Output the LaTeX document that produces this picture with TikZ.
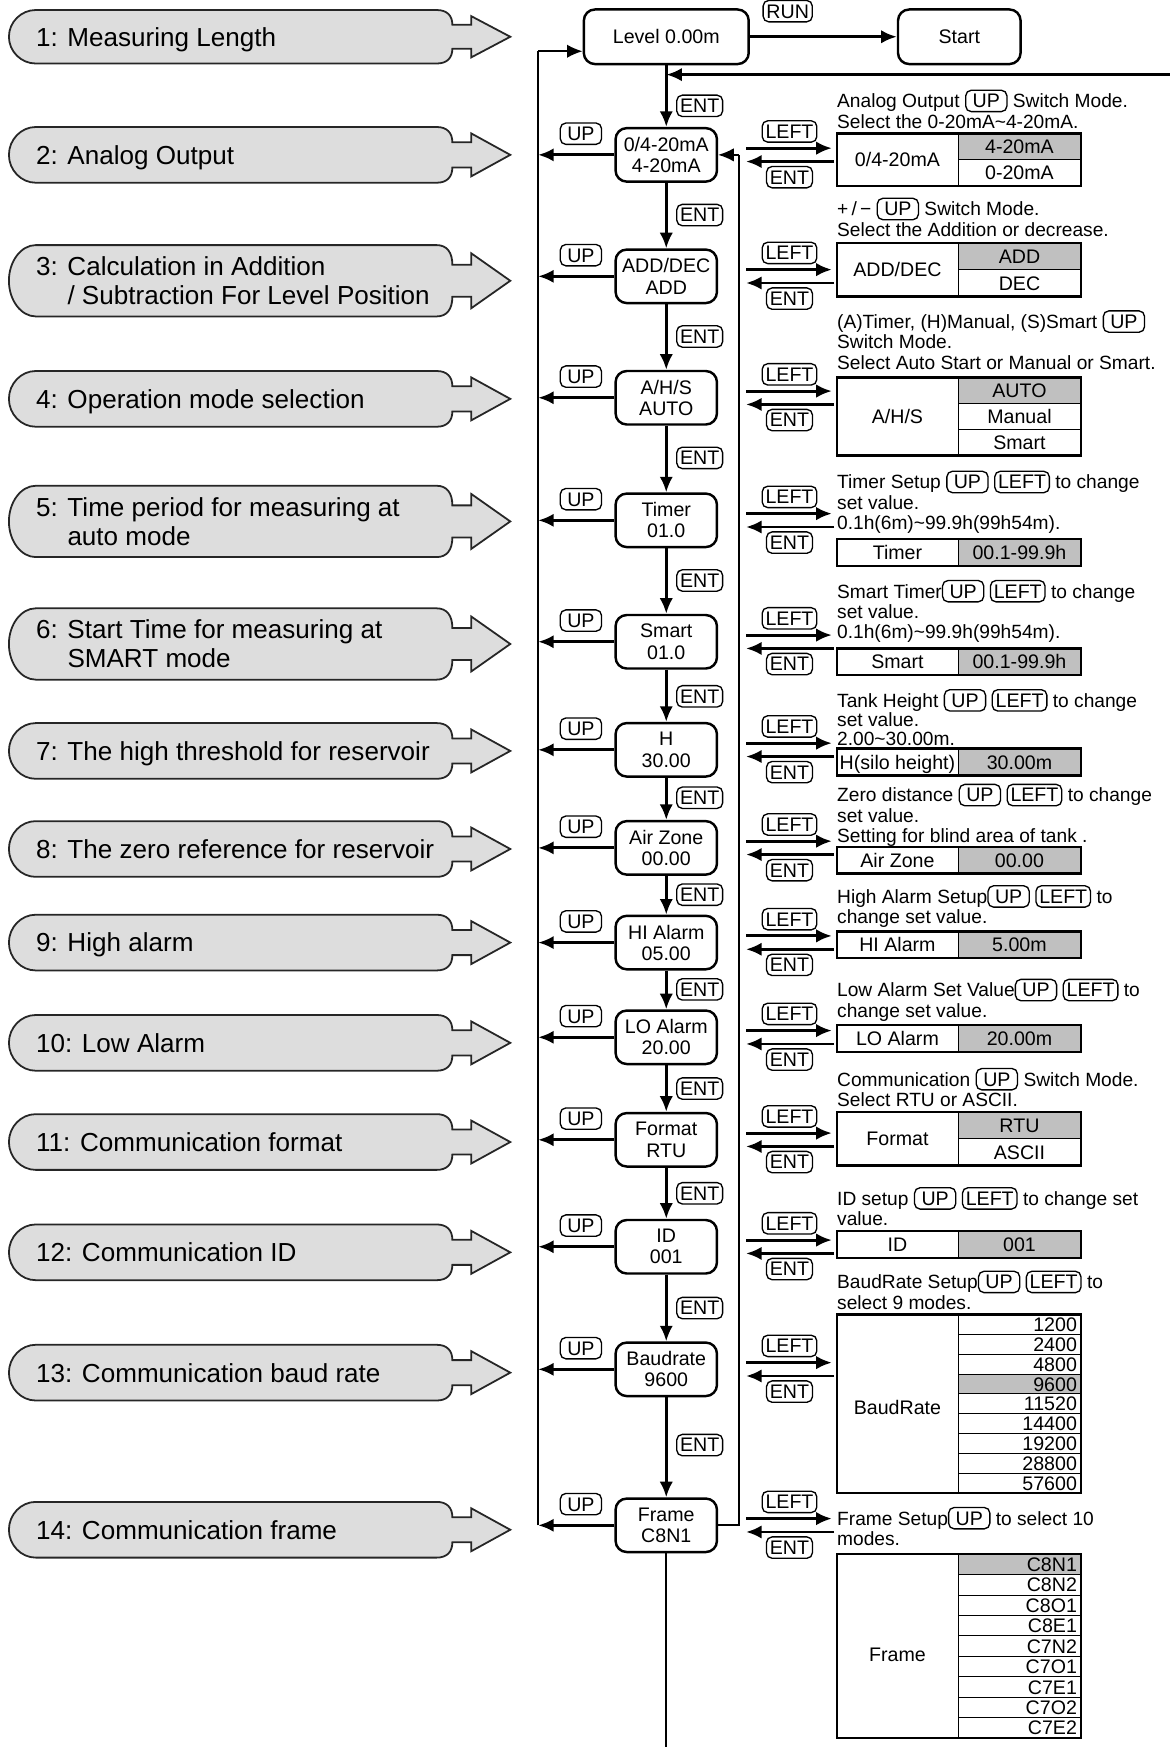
\documentclass[tikz,border=0pt]{standalone}
\usepackage{fontspec}
\setmainfont{Liberation Sans}
\usetikzlibrary{arrows.meta,calc}
\definecolor{bangray}{RGB}{221,221,221}
\definecolor{selgray}{RGB}{192,192,192}
\lineskiplimit=-5pt
\tikzset{%
    banner/.style={draw=black!85,fill=bangray,line width=0.8pt},
    bantext/.style={anchor=west,align=left,inner sep=0pt,font=\fontsize{11.7}{13}\selectfont},
    setbox/.style={shape=rectangle,draw,line width=1.1pt,rounded corners=5pt,minimum width=45.5pt,minimum height=24pt,inner sep=0pt,align=center,font=\fontsize{8.8}{9.5}\selectfont},
    keylab/.style={shape=rectangle,draw,line width=0.6pt,rounded corners=2.5pt,inner xsep=1.5pt,inner ysep=1.5pt,minimum width=18.5pt,text height=6.4pt,text depth=0.2pt,font=\fontsize{8.8}{9}\selectfont},
    flow/.style={line width=1.3pt,-{Latex[length=7pt,width=6pt]}},
    bus/.style={line width=0.75pt},
    busarrow/.style={line width=0.75pt,-{Latex[length=7pt,width=6pt]}},
    desc/.style={anchor=north west,align=left,inner sep=0pt,font=\fontsize{8.6}{9.1}\selectfont},
    tabout/.style={draw,line width=1.1pt},
    tabthin/.style={draw,line width=0.5pt},
    tabtxt/.style={inner sep=0pt,text height=6.3pt,text depth=0pt,font=\fontsize{8.8}{9}\selectfont},
}
% key drawn inside a line of text
\newcommand{\kb}[1]{\tikz[baseline=(kb.base)]\node[keylab](kb){#1};}
% grey banner with arrow, #1 centre y, #2 half height
\newcommand{\bannerat}[2]{%
  \draw[banner] (406,#1-0.45*#2) -- (423,#1-0.45*#2) -- (423,#1-0.77*#2) -- (458,#1)
    -- (423,#1+0.77*#2) -- (423,#1+0.45*#2) -- (406,#1+0.45*#2)
    .. controls (406,#1+0.8*#2) and (401,#1+#2) .. (392,#1+#2) -- (32,#1+#2)
    .. controls (19,#1+#2) and (8,#1+0.55*#2) .. (8,#1)
    .. controls (8,#1-0.55*#2) and (19,#1-#2) .. (32,#1-#2) -- (392,#1-#2)
    .. controls (401,#1-#2) and (406,#1-0.8*#2) .. (406,#1-0.45*#2) -- cycle;}
% UP exit of a setting box
\newcommand{\uplink}[2]{%
  \draw[flow] (#1.west) -- (#1.west -| lbtop);
  \node[keylab] (#2) at ($(#1.west)+(-30,-19)$) {UP};}
% LEFT / ENT pair to the side table
\newcommand{\sidelink}[3]{%
  \draw[flow] ([yshift=3pt]#1.east) ++(25,0) -- ++(77,0);
  \draw[flow] ([yshift=-3pt]#1.east) ++(104,0) -- ++(-79,0);
  \node[keylab] (#2) at ($(#1.east)+(64,-21)$) {LEFT};
  \node[keylab] (#3) at ($(#1.east)+(64,20)$) {ENT};}
% one-row table, value cell grey
\newcommand{\pairtable}[4]{%
  \fill[selgray] (860,#2) rectangle (970,#2+24);
  \draw[tabthin] (860,#2) -- (860,#2+24);
  \draw[tabout] (751,#2) rectangle (970,#2+24);
  \node[tabtxt] (#1) at (805.5,#2+12) {#3};
  \node[tabtxt] (#1v) at (915,#2+12) {#4};}
% one cell of a long list, #1 fill, #2 name, #3 top, #4 height, #5 text
\newcommand{\listrow}[5][white]{%
  \path[tabthin,fill=#1] (860,#3) rectangle (970,#3+#4);
  \node[tabtxt,anchor=east] (#2) at (967,#3+#4/2) {#5};}

\begin{document}
\begin{tikzpicture}[x=0.5pt,y=-0.5pt]
\useasboundingbox (0,0) rectangle (1050,1568);

% banners
\bannerat{33}{24}
\node[bantext,text height=8.4pt,text depth=0pt] (b1) at (32,33) {1: Measuring Length};
\bannerat{139}{25}
\node[bantext,text height=8.4pt,text depth=0pt] (b2) at (32,139) {2: Analog Output};
\bannerat{252}{32}
\node[bantext] (b3) at (32,252) {3: Calculation in Addition\\\phantom{3: }/ Subtraction For Level Position};
\bannerat{358}{25}
\node[bantext,text height=8.4pt,text depth=0pt] (b4) at (32,358) {4: Operation mode selection};
\bannerat{468}{32}
\node[bantext] (b5) at (32,468) {5: Time period for measuring at\\\phantom{5: }auto mode};
\bannerat{578}{32}
\node[bantext] (b6) at (32,578) {6: Start Time for measuring at\\\phantom{6: }SMART mode};
\bannerat{674}{25}
\node[bantext,text height=8.4pt,text depth=0pt] (b7) at (32,674) {7: The high threshold for reservoir};
\bannerat{762}{25}
\node[bantext,text height=8.4pt,text depth=0pt] (b8) at (32,762) {8: The zero reference for reservoir};
\bannerat{846}{25}
\node[bantext,text height=8.4pt,text depth=0pt] (b9) at (32,846) {9: High alarm};
\bannerat{936}{25}
\node[bantext,text height=8.4pt,text depth=0pt] (b10) at (32,936) {10: Low Alarm};
\bannerat{1025}{25}
\node[bantext,text height=8.4pt,text depth=0pt] (b11) at (32,1025) {11: Communication format};
\bannerat{1124}{25}
\node[bantext,text height=8.4pt,text depth=0pt] (b12) at (32,1124) {12: Communication ID};
\bannerat{1232}{25}
\node[bantext,text height=8.4pt,text depth=0pt] (b13) at (32,1232) {13: Communication baud rate};
\bannerat{1373}{25}
\node[bantext,text height=8.4pt,text depth=0pt] (b14) at (32,1373) {14: Communication frame};

% run / start
\node[setbox,minimum width=74pt,minimum height=24.5pt] (lvl) at (598,33) {Level 0.00m};
\node[setbox,minimum width=55pt,minimum height=24.5pt] (start) at (861,33) {Start};
\node[keylab] (run) at (707,10) {RUN};
\draw[flow] (lvl) -- (start);

% setting boxes
\node[setbox] (s1) at (598,139) {0/4-20mA\\4-20mA};
\node[setbox] (s2) at (598,248) {ADD/DEC\\ADD};
\node[setbox] (s3) at (598,357) {A/H/S\\AUTO};
\node[setbox] (s4) at (598,467) {Timer\\01.0};
\node[setbox] (s5) at (598,576) {Smart\\01.0};
\node[setbox] (s6) at (598,673) {H\\30.00};
\node[setbox] (s7) at (598,761) {Air Zone\\00.00};
\node[setbox] (s8) at (598,846) {HI Alarm\\05.00};
\node[setbox] (s9) at (598,931) {LO Alarm\\20.00};
\node[setbox] (s10) at (598,1023) {Format\\RTU};
\node[setbox] (s11) at (598,1119) {ID\\001};
\node[setbox] (s12) at (598,1229) {Baudrate\\9600};
\node[setbox] (s13) at (598,1369) {Frame\\C8N1};

% ENT trunk
\coordinate (back) at (1050,67);
\draw[flow] (back) -- (back -| lvl);
\draw[flow] (lvl) -- (s1);
\draw[flow] (s1) -- (s2);
\draw[flow] (s2) -- (s3);
\draw[flow] (s3) -- (s4);
\draw[flow] (s4) -- (s5);
\draw[flow] (s5) -- (s6);
\draw[flow] (s6) -- (s7);
\draw[flow] (s7) -- (s8);
\draw[flow] (s8) -- (s9);
\draw[flow] (s9) -- (s10);
\draw[flow] (s10) -- (s11);
\draw[flow] (s11) -- (s12);
\draw[flow] (s12) -- (s13);
\coordinate (bot) at (598,1568);
\draw[bus] (s13) -- (bot);
\node[keylab] (e1) at (628,95) {ENT};
\node[keylab] (e2) at (628,193) {ENT};
\node[keylab] (e3) at (628,302) {ENT};
\node[keylab] (e4) at (628,411) {ENT};
\node[keylab] (e5) at (628,521) {ENT};
\node[keylab] (e6) at (628,625) {ENT};
\node[keylab] (e7) at (628,716) {ENT};
\node[keylab] (e8) at (628,803) {ENT};
\node[keylab] (e9) at (628,888) {ENT};
\node[keylab] (e10) at (628,977) {ENT};
\node[keylab] (e11) at (628,1071) {ENT};
\node[keylab] (e12) at (628,1174) {ENT};
\node[keylab] (e13) at (628,1297) {ENT};

% UP bus on the left
\coordinate (lbtop) at (483,46);
\draw[bus] (s13.west -| lbtop) -- (lbtop);
\draw[busarrow] (lbtop) -- (lbtop -| lvl.west);
\uplink{s1}{u1}
\uplink{s2}{u2}
\uplink{s3}{u3}
\uplink{s4}{u4}
\uplink{s5}{u5}
\uplink{s6}{u6}
\uplink{s7}{u7}
\uplink{s8}{u8}
\uplink{s9}{u9}
\uplink{s10}{u10}
\uplink{s11}{u11}
\uplink{s12}{u12}
\uplink{s13}{u13}

% loop back on the right
\coordinate (rbus) at (663,0);
\draw[bus] (s13.east) -- (s13.east -| rbus) -- (s1.east -| rbus);
\draw[busarrow] (s1.east -| rbus) -- (s1.east);

% LEFT / ENT to the tables
\sidelink{s1}{l1}{n1}
\sidelink{s2}{l2}{n2}
\sidelink{s3}{l3}{n3}
\sidelink{s4}{l4}{n4}
\sidelink{s5}{l5}{n5}
\sidelink{s6}{l6}{n6}
\sidelink{s7}{l7}{n7}
\sidelink{s8}{l8}{n8}
\sidelink{s9}{l9}{n9}
\sidelink{s10}{l10}{n10}
\sidelink{s11}{l11}{n11}
\sidelink{s12}{l12}{n12}
\sidelink{s13}{l13}{n13}

% notes
\node[desc] (d1) at (751,80) {Analog Output \kb{UP} Switch Mode.\\Select the 0-20mA\textasciitilde4-20mA.};
\node[desc] (d2) at (751,177) {+\,/\,−\ \kb{UP} Switch Mode.\\Select the Addition or decrease.};
\node[desc] (d3) at (751,278) {(A)Timer, (H)Manual, (S)Smart \kb{UP}\\Switch Mode.\\Select Auto Start or Manual or Smart.};
\node[desc] (d4) at (751,422) {Timer Setup \kb{UP} \kb{LEFT} to change\\set value.\\0.1h(6m)\textasciitilde99.9h(99h54m).};
\node[desc] (d5) at (751,520) {Smart Timer\kb{UP} \kb{LEFT} to change\\set value.\\0.1h(6m)\textasciitilde99.9h(99h54m).};
\node[desc,font=\fontsize{8.6}{8.5}\selectfont] (d6) at (751,618) {Tank Height \kb{UP} \kb{LEFT} to change\\set value.\\2.00\textasciitilde30.00m.};
\node[desc] (d7) at (751,703) {Zero distance \kb{UP} \kb{LEFT} to change\\set value.\\Setting for blind area of tank .};
\node[desc] (d8) at (751,794) {High Alarm Setup\kb{UP} \kb{LEFT} to\\change set value.};
\node[desc] (d9) at (751,878) {Low Alarm Set Value\kb{UP} \kb{LEFT} to\\change set value.};
\node[desc] (d10) at (751,958) {Communication \kb{UP} Switch Mode.\\Select RTU or ASCII.};
\node[desc] (d11) at (751,1065) {ID setup \kb{UP} \kb{LEFT} to change set\\value.};
\node[desc] (d12) at (751,1140) {BaudRate Setup\kb{UP} \kb{LEFT} to\\select 9 modes.};
\node[desc] (d13) at (751,1352) {Frame Setup\kb{UP} to select 10\\modes.};

% tables
\fill[selgray] (860,120) rectangle (970,143.5);
\draw[tabthin] (860,120) -- (860,167) (860,143.5) -- (970,143.5);
\draw[tabout] (751,120) rectangle (970,167);
\node[tabtxt] (t1) at (805.5,143.5) {0/4-20mA};
\node[tabtxt] (t1a) at (915,131.75) {4-20mA};
\node[tabtxt] (t1b) at (915,155.25) {0-20mA};

\fill[selgray] (860,218) rectangle (970,242);
\draw[tabthin] (860,218) -- (860,266) (860,242) -- (970,242);
\draw[tabout] (751,218) rectangle (970,266);
\node[tabtxt] (t2) at (805.5,242) {ADD/DEC};
\node[tabtxt] (t2a) at (915,230) {ADD};
\node[tabtxt] (t2b) at (915,254) {DEC};

\fill[selgray] (860,339) rectangle (970,362.3);
\draw[tabthin] (860,339) -- (860,409) (860,362.3) -- (970,362.3) (860,385.7) -- (970,385.7);
\draw[tabout] (751,339) rectangle (970,409);
\node[tabtxt] (t3) at (805.5,374) {A/H/S};
\node[tabtxt] (t3a) at (915,350.7) {AUTO};
\node[tabtxt] (t3b) at (915,374) {Manual};
\node[tabtxt] (t3c) at (915,397.3) {Smart};

\pairtable{t4}{484}{Timer}{00.1-99.9h}
\pairtable{t5}{582}{Smart}{00.1-99.9h}
\pairtable{t6}{672}{H(silo height)}{30.00m}
\pairtable{t7}{760}{Air Zone}{00.00}
\pairtable{t8}{836}{HI Alarm}{5.00m}
\pairtable{t9}{920}{LO Alarm}{20.00m}

\fill[selgray] (860,998) rectangle (970,1022);
\draw[tabthin] (860,998) -- (860,1046) (860,1022) -- (970,1022);
\draw[tabout] (751,998) rectangle (970,1046);
\node[tabtxt] (t10) at (805.5,1022) {Format};
\node[tabtxt] (t10a) at (915,1010) {RTU};
\node[tabtxt] (t10b) at (915,1034) {ASCII};

\pairtable{t11}{1105}{ID}{001}

% baud rate list
\listrow{br1}{1180}{17.78}{1200}
\listrow{br2}{1197.8}{17.78}{2400}
\listrow{br3}{1215.6}{17.78}{4800}
\listrow[selgray]{br4}{1233.3}{17.78}{9600}
\listrow{br5}{1251.1}{17.78}{11520}
\listrow{br6}{1268.9}{17.78}{14400}
\listrow{br7}{1286.7}{17.78}{19200}
\listrow{br8}{1304.4}{17.78}{28800}
\listrow{br9}{1322.2}{17.78}{57600}
\draw[tabout] (751,1180) rectangle (970,1340);
\node[tabtxt] (t12) at (805.5,1263) {BaudRate};

% frame list
\listrow[selgray]{fr1}{1395}{18.33}{C8N1}
\listrow{fr2}{1413.3}{18.33}{C8N2}
\listrow{fr3}{1431.7}{18.33}{C8O1}
\listrow{fr4}{1450}{18.33}{C8E1}
\listrow{fr5}{1468.3}{18.33}{C7N2}
\listrow{fr6}{1486.7}{18.33}{C7O1}
\listrow{fr7}{1505}{18.33}{C7E1}
\listrow{fr8}{1523.3}{18.33}{C7O2}
\listrow{fr9}{1541.7}{18.33}{C7E2}
\draw[tabout] (751,1395) rectangle (970,1560);
\node[tabtxt] (t13) at (805.5,1485) {Frame};
\end{tikzpicture}
\end{document}
